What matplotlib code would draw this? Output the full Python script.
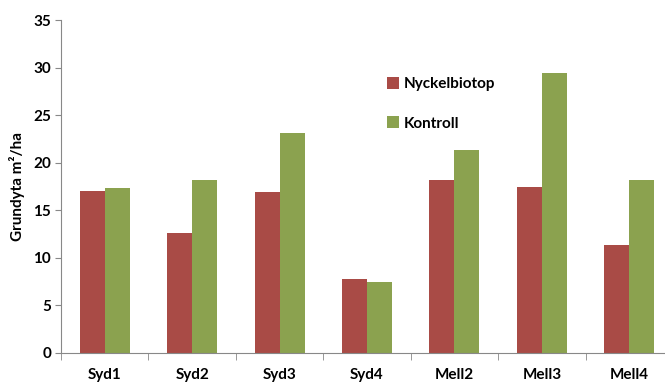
import matplotlib
matplotlib.use('Agg')
import matplotlib.pyplot as plt
import numpy as np

# data
sites = ['Syd1', 'Syd2', 'Syd3', 'Syd4', 'Mell2', 'Mell3', 'Mell4']
nyckelbiotop = [17.0, 12.6, 16.9, 7.8, 18.2, 17.5, 11.3]
kontroll = [17.3, 18.2, 23.1, 7.5, 21.3, 29.4, 18.2]
yticks = [0, 5, 10, 15, 20, 25, 30, 35]

plt.rcParams['font.family'] = ['Lato', 'DejaVu Sans']

fig = plt.figure(figsize=(6.65, 3.83), dpi=100)
ax = fig.add_axes([61 / 665, 30 / 383, 612 / 665, 333 / 383])

x = np.arange(len(sites))
w = 0.286
b1 = ax.bar(x - w / 2, nyckelbiotop, w, color='#A94B46', label='Nyckelbiotop')
b2 = ax.bar(x + w / 2, kontroll, w, color='#8BA24F', label='Kontroll')

ax.set_xlim(-0.5, len(sites) - 0.5)
ax.set_ylim(0, 35)
ax.set_yticks(yticks)
ax.set_yticklabels([str(t) for t in yticks], fontsize=11, fontweight='bold')

ax.set_xticks(x)
ax.set_xticklabels(sites, fontsize=11, fontweight='bold')
ax.set_xticks(np.arange(len(sites) + 1) - 0.5, minor=True)
ax.tick_params(axis='x', which='major', length=0, pad=11)
ax.tick_params(axis='x', which='minor', length=5, color='#888888', direction='out')
ax.tick_params(axis='y', length=4, color='#888888', direction='out', pad=3)

for s in ['top', 'right']:
    ax.spines[s].set_visible(False)
for s in ['left', 'bottom']:
    ax.spines[s].set_color('#888888')
    ax.spines[s].set_linewidth(0.8)

ax.set_ylabel('Grundyta m²/ha', fontsize=11, fontweight='bold', labelpad=6)

ax.legend(handles=[b1, b2], loc='upper left', bbox_to_anchor=(0.51, 0.87),
          frameon=False, prop={'weight': 'bold', 'size': 11},
          handlelength=0.8, handleheight=0.8, handletextpad=0.3, labelspacing=1.65)

fig.savefig('out.png', dpi=100)
